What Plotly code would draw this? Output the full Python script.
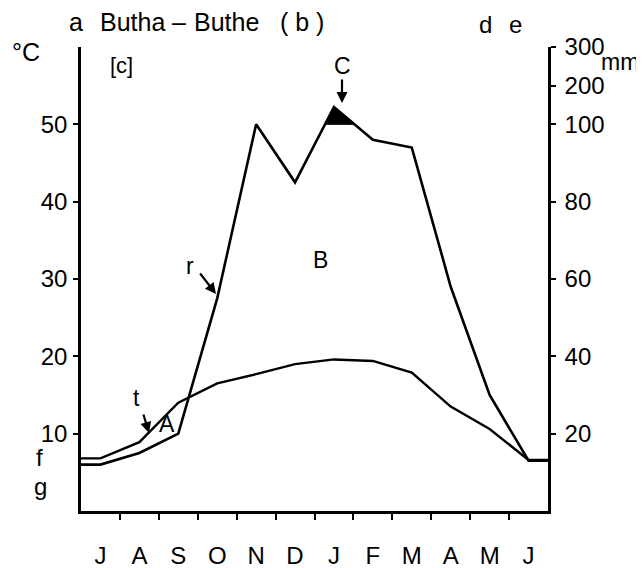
import plotly.graph_objects as go

# ---- data ----
months = ["J", "A", "S", "O", "N", "D", "J", "F", "M", "A", "M", "J"]
temp_c = [6.8, 8.9, 14.0, 16.5, 17.7, 19.0, 19.6, 19.4, 17.9, 13.5, 10.6, 6.6]
precip_mm = [12, 15, 20, 55, 100, 85, 145, 96, 94, 58, 30, 13]
left_ticks = [10, 20, 30, 40, 50]
right_tick_mm = [20, 40, 60, 80, 100, 200, 300]

# Walter-Lieth precipitation scale: 10 degC = 20 mm up to 100 mm, then reduced
def mm_to_scale(mm):
    return mm / 2.0 if mm <= 100 else 50 + (mm - 100) / 20.0

p_scaled = [mm_to_scale(v) for v in precip_mm]
xc = [i + 0.5 for i in range(12)]
xs = [0] + xc + [12]
t_line = [temp_c[0]] + temp_c + [temp_c[-1]]
p_line = [p_scaled[0]] + p_scaled + [p_scaled[-1]]

# region above 100 mm (black fill)
fill_x, fill_y = [], []
for i in range(len(xs) - 1):
    x0, y0, x1, y1 = xs[i], p_line[i], xs[i + 1], p_line[i + 1]
    if y0 > 50:
        fill_x.append(x0); fill_y.append(y0)
    if (y0 - 50) * (y1 - 50) < 0:
        xi = x0 + (50 - y0) / (y1 - y0) * (x1 - x0)
        fill_x.append(xi); fill_y.append(50)

# page body has an 8px margin; figure is offset by it
OFF = 8
FW, FH = 644 - OFF, 568 - OFF
L, R, T, B = 81, 548, 47, 511   # plot area in window pixels
W, H = R - L, B - T

def px(x):
    return (x - L) / W

def py(y):
    return (B - y) / H

fig = go.Figure()
if fill_x:
    fig.add_trace(go.Scatter(x=fill_x + [fill_x[0]], y=fill_y + [fill_y[0]], mode="lines",
                             fill="toself", fillcolor="black", line=dict(color="black", width=1),
                             hoverinfo="skip", showlegend=False))
fig.add_trace(go.Scatter(x=xs, y=p_line, mode="lines", line=dict(color="black", width=2.6),
                         showlegend=False, name="precipitation"))
fig.add_trace(go.Scatter(x=xs, y=t_line, mode="lines", line=dict(color="black", width=2.4),
                         showlegend=False, name="temperature"))
# invisible trace for right axis
fig.add_trace(go.Scatter(x=[0], y=[0], yaxis="y2", mode="markers", marker=dict(opacity=0),
                         showlegend=False, hoverinfo="skip"))

font = "Liberation Sans, Arial, sans-serif"
tickfont = dict(family=font, size=24, color="black")

fig.update_layout(
    width=FW, height=FH,
    margin=dict(l=L - OFF, r=FW - (R - OFF), t=T - OFF, b=FH - (B - OFF)),
    paper_bgcolor="white", plot_bgcolor="white",
    xaxis=dict(range=[0, 12], tickvals=xc, ticktext=months, ticks="", showgrid=False,
               zeroline=False, showline=True, linecolor="black", linewidth=2.5,
               automargin=False,
               tickfont=dict(family=font, size=24, color="black"), ticklabelstandoff=21,
               minor=dict(tickvals=list(range(1, 12)), ticks="outside", ticklen=6,
                          tickwidth=2, tickcolor="black", showgrid=False)),
    yaxis=dict(range=[0, 60], tickvals=left_ticks, ticktext=[str(v) for v in left_ticks],
               ticks="outside", ticklen=5, tickwidth=2, tickcolor="black", showgrid=False,
               zeroline=False, showline=True, linecolor="black", linewidth=2.5,
               automargin=False, tickfont=tickfont, ticklabelstandoff=1),
    yaxis2=dict(range=[0, 60], overlaying="y", side="right",
                tickvals=[mm_to_scale(v) for v in right_tick_mm],
                ticktext=[str(v) for v in right_tick_mm],
                ticks="outside", ticklen=5, tickwidth=2, tickcolor="black", showgrid=False,
                zeroline=False, showline=True, linecolor="black", linewidth=2.5,
                automargin=False, tickfont=tickfont, ticklabelstandoff=4),
)

def txt(s, x, y, size=22):
    fig.add_annotation(text=s, x=px(x), y=py(y), xref="paper", yref="paper",
                       showarrow=False, font=dict(family=font, size=size, color="black"),
                       xanchor="center", yanchor="middle")

def arrow(x_tail, y_tail, x_head, y_head):
    fig.add_annotation(text="", x=px(x_head), y=py(y_head), xref="paper", yref="paper",
                       showarrow=True, ax=x_tail - x_head, ay=y_tail - y_head,
                       arrowhead=2, arrowsize=1, arrowwidth=2.2, arrowcolor="black")

txt("a", 76, 22, 25)
txt("Butha", 132, 22, 25)
txt("–", 179, 22, 25)
txt("Buthe", 226, 22, 25)
txt("( b )", 302, 22, 25)
txt("d", 485, 24, 24)
txt("e", 515, 24, 24)
txt("°C", 26, 52, 25)
txt("[c]", 121, 65, 22)
txt("mm", 620, 62, 23)
txt("f", 39, 457, 24)
txt("g", 40, 486, 24)
txt("t", 136, 398, 23)
txt("A", 167, 424, 23)
txt("r", 190, 266, 23)
txt("B", 320, 260, 23)
txt("C", 342, 66, 23)
arrow(143, 413, 149, 433)
arrow(199, 272, 216, 294)
arrow(342, 78, 342, 103)

fig.write_html("out.html")
